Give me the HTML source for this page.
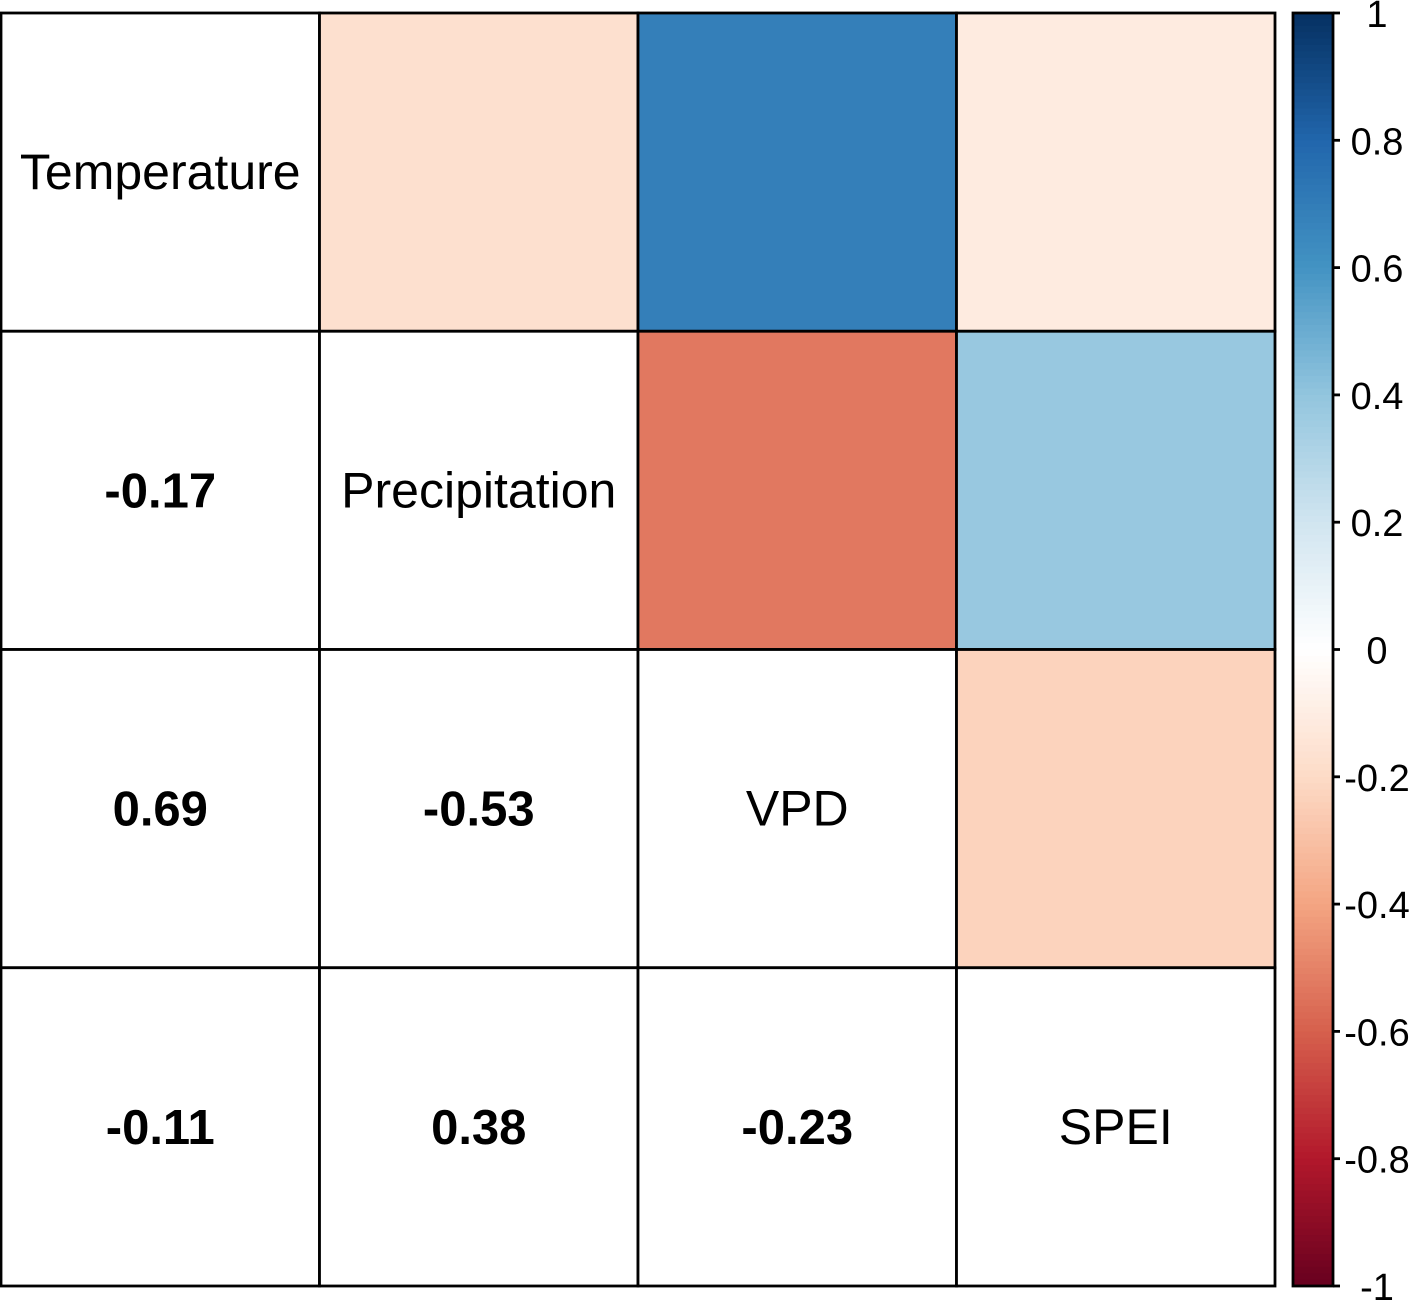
<!DOCTYPE html>
<html><head><meta charset="utf-8"><style>
html,body{margin:0;padding:0;background:#fff}
svg{display:block}
text{font-family:"Liberation Sans",Arial,sans-serif}
</style></head><body>
<svg id="chart" width="1410" height="1301"></svg>
<script>
const variables = ["Temperature","Precipitation","VPD","SPEI"];
const corrMatrix = [
  [1, -0.17, 0.69, -0.11],
  [-0.17, 1, -0.53, 0.38],
  [0.69, -0.53, 1, -0.23],
  [-0.11, 0.38, -0.23, 1]
];
const colorbarTicks = [1,0.8,0.6,0.4,0.2,0,-0.2,-0.4,-0.6,-0.8,-1];
const palette = ["#67001F","#B2182B","#D6604D","#F4A582","#FDDBC7","#FFFFFF","#D1E5F0","#92C5DE","#4393C3","#2166AC","#053061"];

const NS="http://www.w3.org/2000/svg";
const svg=document.getElementById('chart');
function mk(tag,attrs,parent){const e=document.createElementNS(NS,tag);for(const k in attrs)e.setAttribute(k,attrs[k]);(parent||svg).appendChild(e);return e;}
function hex(h){return [1,3,5].map(i=>parseInt(h.substr(i,2),16));}
function colorFor(v){
  const t=(v+1)/2*(palette.length-1);
  const i=Math.min(Math.floor(t),palette.length-2), f=t-i;
  const a=hex(palette[i]), b=hex(palette[i+1]);
  return "rgb("+a.map((c,k)=>Math.round(c+(b[k]-c)*f)).join(",")+")";
}
const gx0=1,gx1=1275,gy0=13,gy1=1286,n=variables.length;
const cw=(gx1-gx0)/n, ch=(gy1-gy0)/n;
const xs=j=>gx0+j*cw, ys=i=>gy0+i*ch;

for(let i=0;i<n;i++)for(let j=0;j<n;j++){
  const v=corrMatrix[i][j];
  const g=mk('g',{});
  
  
  const fill = j>i ? colorFor(v) : "#fff";
  mk('rect',{x:xs(j),y:ys(i),width:cw,height:ch,fill:fill,stroke:"#000","stroke-width":2.8},g);
  const cx=xs(j)+cw/2, cy=ys(i)+ch/2+17;
  if(i===j){
    const t=mk('text',{x:cx,y:cy,"text-anchor":"middle","font-size":50},g);
    t.textContent=variables[i];
    
    
  } else if(i>j){
    const t=mk('text',{x:cx,y:cy,"text-anchor":"middle","font-size":49,"font-weight":"bold"},g);
    t.textContent=v.toFixed(2);
    
    
  }
}
// colorbar
const cb=mk('g',{});


const bx=1293,bw=40,by0=13,by1=1286,steps=200;
const ysc=v=>by0+(1-v)/2*(by1-by0);
for(let k=0;k<steps;k++){
  const v=1-(k+0.5)*2/steps;
  mk('rect',{x:bx,y:by0+k*(by1-by0)/steps,width:bw,height:(by1-by0)/steps+0.6,fill:colorFor(v)},cb);
}
mk('rect',{x:bx,y:by0,width:bw,height:by1-by0,fill:"none",stroke:"#000","stroke-width":2.8},cb);
colorbarTicks.forEach(v=>{
  const y=ysc(v);
  mk('line',{x1:bx+bw,x2:bx+bw+7,y1:y,y2:y,stroke:"#000","stroke-width":2.8},cb);
  const t=mk('text',{x:1377,y:y+14,"text-anchor":"middle","font-size":38},cb);
  t.textContent=String(v);
  
  
});
</script>
</body></html>
